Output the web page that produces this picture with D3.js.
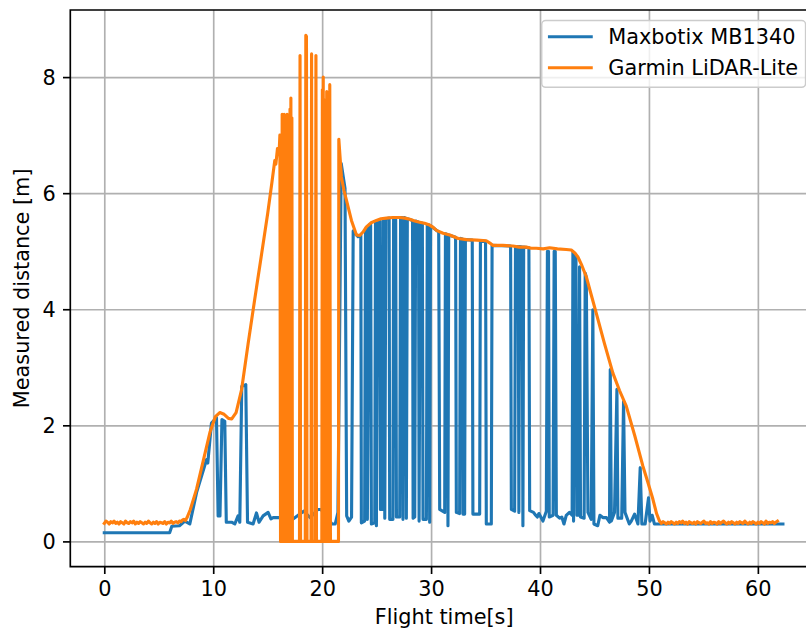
<!DOCTYPE html>
<html><head><meta charset="utf-8">
<script src="https://cdn.jsdelivr.net/npm/d3@7"></script>
<style>body{margin:0;background:#fff}svg{display:block}text{font-family:"DejaVu Sans",sans-serif}</style>
</head><body>
<svg id="c" width="806" height="634"></svg>
<script>
const xTicks = [0,10,20,30,40,50,60];
const yTicks = [0,2,4,6,8];
const seriesNames = ["Maxbotix MB1340","Garmin LiDAR-Lite"];
const xLabel = "Flight time[s]";
const yLabel = "Measured distance [m]";

const maxbotixT = [0,6.0,6.2,6.9,7.4,7.85,8.47,9.39,9.5,9.84,10.3,10.45,10.62,10.8,11.06,11.2,11.68,11.98,12.28,12.44,12.62,12.99,13.15,13.66,13.97,14.21,14.58,15.04,15.3,15.5,16.11,17.3,18.3,18.9,19.6,19.9,20.9,21.2,21.45,21.75,22.1,22.25,22.45,22.7,22.85,23.3,23.55,23.6,23.9,23.98,24.1,24.15,24.3,24.45,24.52,24.83,24.9,24.98,25.1,25.3,25.35,25.53,25.6,25.7,25.75,25.85,26.15,26.2,26.5,26.56,26.75,26.82,27.12,27.2,27.36,27.42,27.52,27.68,27.73,27.82,28.3,28.35,28.5,28.58,28.85,28.9,29.0,29.2,29.26,29.57,29.65,29.8,29.87,29.95,30.7,30.79,31.25,31.32,31.48,31.55,31.62,32.25,32.32,32.62,32.7,32.88,32.93,33.08,33.15,33.78,33.84,34.46,34.53,35.0,35.07,35.53,35.6,37.3,37.37,37.67,37.75,38.0,38.06,38.13,38.36,38.43,38.5,38.98,39.05,39.4,39.6,39.75,39.9,40.27,40.58,40.68,40.78,40.85,41.2,41.3,41.4,41.5,41.8,42.0,42.2,42.41,42.7,42.95,43.02,43.08,43.17,43.3,43.39,43.55,43.63,43.72,44.05,44.15,44.25,44.4,44.7,44.85,44.95,45.3,45.5,45.77,46.1,46.38,46.45,46.55,46.84,47.06,47.15,47.5,47.67,47.8,48.2,48.38,48.68,48.99,49.2,49.35,49.65,49.96,50.1,50.3,50.5,62.3];
const maxbotixV = [0.15,0.15,0.26,0.27,0.35,0.30,0.84,1.41,1.35,2.04,2.13,0.44,0.44,2.10,2.07,0.33,0.33,0.30,0.44,0.33,2.67,2.70,0.33,0.30,0.49,0.33,0.44,0.50,0.39,0.41,0.41,0.38,0.52,0.41,0.55,0.55,0.30,0.30,0.50,6.51,6.08,0.44,0.35,0.42,5.35,5.25,5.28,0.32,0.35,5.38,5.40,0.38,5.45,5.46,0.30,0.32,5.50,0.27,5.52,5.52,0.55,0.55,5.55,5.55,0.40,5.56,5.57,0.38,0.38,5.57,5.57,0.42,0.42,5.58,5.58,0.38,5.58,5.57,0.40,5.56,5.53,0.40,0.42,5.52,5.50,0.35,5.49,5.48,0.38,0.38,5.46,5.45,0.33,5.44,5.33,0.55,0.50,5.30,5.29,0.27,5.28,5.24,0.50,0.48,5.22,5.21,0.47,0.47,5.20,5.19,0.47,0.47,5.18,5.17,0.30,0.30,5.10,5.09,0.55,0.52,5.08,5.08,0.50,5.08,5.07,0.27,5.07,5.06,0.53,0.50,0.45,0.42,0.48,0.35,0.52,5.00,5.00,0.42,0.45,5.00,5.00,0.45,0.40,0.42,0.30,0.45,0.50,0.45,4.98,0.35,4.95,4.90,0.45,0.45,4.73,0.42,0.40,4.62,4.55,0.50,0.38,3.99,0.30,0.27,0.45,0.41,0.41,0.33,2.96,0.35,0.50,2.62,0.40,0.40,2.41,0.50,0.30,0.35,0.47,0.30,1.27,0.30,0.30,0.75,0.35,0.45,0.30,0.30];

const garminT = [0.0,0.15,0.3,0.45,0.6,0.75,0.9,1.05,1.2,1.35,1.5,1.65,1.8,1.95,2.1,2.25,2.4,2.55,2.7,2.85,3.0,3.15,3.3,3.45,3.6,3.75,3.9,4.05,4.2,4.35,4.5,4.65,4.8,4.95,5.1,5.25,5.4,5.55,5.7,5.85,6.0,6.15,6.3,6.45,6.6,6.75,6.9,7.05,7.2,7.3,7.45,7.6,7.9,8.47,9.1,9.7,10.2,10.6,11.0,11.4,11.7,12.1,12.6,13.2,13.8,14.4,15.0,15.4,15.65,15.75,15.9,16.05,16.12,16.18,16.24,16.28,16.33,16.37,16.42,16.46,16.51,16.55,16.6,16.64,16.69,16.73,16.78,16.82,16.87,16.91,16.96,17.0,17.05,17.09,17.13,17.17,17.22,17.27,17.92,17.97,18.02,18.45,18.5,18.56,18.61,18.98,19.03,19.08,19.38,19.43,19.48,19.97,20.02,20.06,20.1,20.14,20.25,20.29,20.42,20.46,20.6,20.64,20.7,20.76,21.5,21.53,21.77,22.0,22.23,22.69,23.15,23.45,23.75,24.06,24.5,24.98,25.4,25.9,26.5,27.1,27.6,28.04,28.5,28.95,29.4,29.87,30.2,30.49,31.1,31.71,32.5,33.24,34.2,35.07,35.4,35.68,36.6,37.51,38.1,38.74,39.2,39.66,40.3,40.88,41.6,42.41,42.87,43.2,43.48,43.85,44.25,44.7,45.17,45.9,46.69,47.3,47.92,48.7,49.44,49.9,50.36,50.7,50.97,51.15,51.3,51.45,51.6,51.75,51.9,52.05,52.2,52.35,52.5,52.65,52.8,52.95,53.1,53.25,53.4,53.55,53.7,53.85,54.0,54.15,54.3,54.45,54.6,54.75,54.9,55.05,55.2,55.35,55.5,55.65,55.8,55.95,56.1,56.25,56.4,56.55,56.7,56.85,57.0,57.15,57.3,57.45,57.6,57.75,57.9,58.05,58.2,58.35,58.5,58.65,58.8,58.95,59.1,59.25,59.4,59.55,59.7,59.85,60.0,60.15,60.3,60.45,60.6,60.75,60.9,61.05,61.2,61.35,61.5,61.65,61.8,61.95,62.1,62.25,62.4];
const garminV = [0.31,0.35,0.33,0.30,0.34,0.32,0.35,0.31,0.33,0.30,0.34,0.32,0.30,0.35,0.32,0.31,0.34,0.32,0.35,0.30,0.33,0.31,0.34,0.32,0.30,0.33,0.31,0.35,0.32,0.30,0.33,0.31,0.34,0.30,0.33,0.32,0.31,0.34,0.30,0.33,0.32,0.35,0.31,0.33,0.34,0.32,0.35,0.34,0.37,0.38,0.36,0.41,0.55,0.90,1.40,1.88,2.15,2.22,2.19,2.12,2.11,2.22,2.61,3.40,4.16,4.90,5.65,6.20,6.56,6.50,6.77,6.70,7.00,0,6.9,0,7.36,0,7.3,0,7.36,0,7.3,0,7.25,0,7.36,0,7.3,0,7.2,0,7.45,0,7.64,0,7.3,0,0,8.37,0,0,8.72,8.7,0,0,8.4,0,0,8.37,0,0,7.78,0,8.0,0,7.6,0,7.75,0,7.7,0,7.87,0,0,6.93,6.28,6.05,5.88,5.53,5.28,5.27,5.33,5.42,5.49,5.53,5.56,5.57,5.58,5.58,5.57,5.55,5.52,5.50,5.48,5.45,5.41,5.36,5.31,5.28,5.22,5.20,5.19,5.18,5.14,5.10,5.10,5.09,5.07,5.07,5.05,5.05,5.04,5.06,5.04,5.03,5.02,4.97,4.90,4.75,4.56,4.25,3.93,3.42,2.90,2.60,2.33,1.82,1.30,1.02,0.73,0.48,0.35,0.31,0.34,0.32,0.30,0.33,0.31,0.34,0.32,0.30,0.33,0.31,0.34,0.32,0.35,0.31,0.33,0.30,0.34,0.32,0.31,0.33,0.30,0.34,0.32,0.31,0.33,0.35,0.31,0.32,0.30,0.34,0.31,0.33,0.32,0.30,0.34,0.31,0.33,0.35,0.32,0.30,0.33,0.31,0.34,0.32,0.30,0.33,0.31,0.34,0.32,0.31,0.35,0.32,0.30,0.33,0.31,0.34,0.32,0.30,0.33,0.31,0.34,0.32,0.30,0.35,0.31,0.33,0.32,0.34,0.31,0.33,0.35];

const FS = 20.83;
const L = 70.3, T = 10, R = 818, B = 566.7;
const svg = d3.select("#c");
const x = d3.scaleLinear().domain([-3.12, 65.52]).range([L, R]);
const y = d3.scaleLinear().domain([-0.436, 9.156]).range([B, T]);

// grid
const gx = svg.append("g").attr("transform", `translate(0,${B})`)
  .call(d3.axisBottom(x).tickValues(xTicks).tickSize(-(B - T)).tickFormat(""));
const gy = svg.append("g").attr("transform", `translate(${L},0)`)
  .call(d3.axisLeft(y).tickValues(yTicks).tickSize(-(R - L)).tickFormat(""));
[gx, gy].forEach(g => {
  g.select(".domain").remove();
  g.selectAll("line").attr("stroke", "#b0b0b0").attr("stroke-width", 1.67);
});

svg.append("clipPath").attr("id", "clip").append("rect")
  .attr("x", L).attr("y", T).attr("width", R - L).attr("height", B - T);

const line = d3.line().x(d => x(d[0])).y(d => y(d[1]));
const blue = maxbotixT.map((t, i) => [t, maxbotixV[i]]);
const orange = garminT.map((t, i) => [t, garminV[i]]);
const plot = svg.append("g").attr("clip-path", "url(#clip)");
plot.append("path").datum(blue).attr("d", line).attr("fill", "none")
  .attr("stroke", "#1f77b4").attr("stroke-width", 3.125).attr("stroke-linejoin", "round").attr("stroke-linecap", "square");
plot.append("path").datum(orange).attr("d", line).attr("fill", "none")
  .attr("stroke", "#ff7f0e").attr("stroke-width", 3.125).attr("stroke-linejoin", "round").attr("stroke-linecap", "square");

// axes
const ax = svg.append("g").attr("transform", `translate(0,${B})`)
  .call(d3.axisBottom(x).tickValues(xTicks).tickSize(7.29).tickPadding(7.29).tickSizeOuter(0));
const ay = svg.append("g").attr("transform", `translate(${L},0)`)
  .call(d3.axisLeft(y).tickValues(yTicks).tickSize(7.29).tickPadding(7.29).tickSizeOuter(0));
[ax, ay].forEach(g => {
  g.select(".domain").remove();
  g.selectAll("line").attr("stroke", "#000").attr("stroke-width", 1.67);
  g.selectAll("text").attr("font-size", FS).attr("fill", "#000").style("font-family", '"DejaVu Sans"');
});
ay.selectAll("text").attr("dy", "0.36em");

// spines
const sp = svg.append("g").attr("stroke", "#000").attr("stroke-width", 1.67).attr("fill", "none");
sp.append("path").attr("d", `M${L},${B}V${T}H${R}V${B}Z`).attr("stroke-linejoin", "miter");

// labels
svg.append("text").attr("x", (L + R) / 2).attr("y", 624).attr("text-anchor", "middle")
  .attr("font-size", FS).text(xLabel);
svg.append("text").attr("transform", `translate(29.3,${(T + B) / 2}) rotate(-90)`)
  .attr("text-anchor", "middle").attr("font-size", FS).text(yLabel);

// legend
const lg = svg.append("g");
lg.append("rect").attr("x", 541.7).attr("y", 20.5).attr("width", 263.9).attr("height", 66.8)
  .attr("rx", 4).attr("fill", "#fff").attr("fill-opacity", 0.8).attr("stroke", "#cccccc").attr("stroke-width", 1.5);
const colors = ["#1f77b4", "#ff7f0e"];
seriesNames.forEach((n, i) => {
  const yy = 36.7 + i * 31;
  lg.append("line").attr("x1", 549.5).attr("x2", 591.2).attr("y1", yy).attr("y2", yy)
    .attr("stroke", colors[i]).attr("stroke-width", 3.125).attr("stroke-linecap", "square");
  lg.append("text").attr("x", 608.3).attr("y", yy + 7.6).attr("font-size", FS).text(n);
});
</script>
</body></html>
